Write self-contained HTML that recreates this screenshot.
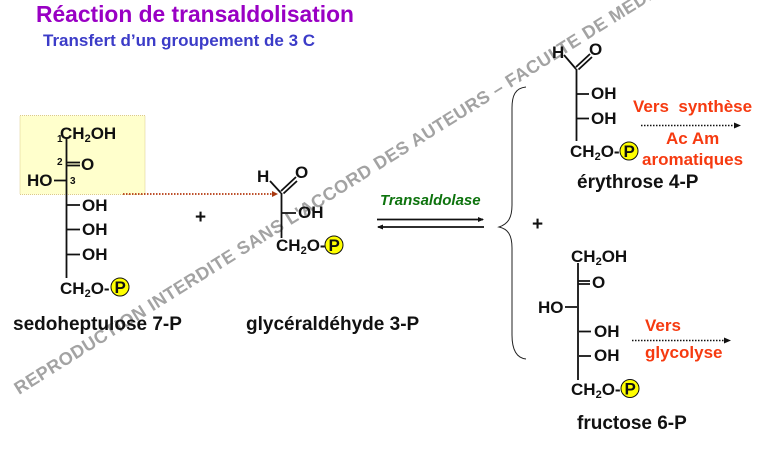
<!DOCTYPE html>
<html><head><meta charset="utf-8"><style>
html,body{margin:0;padding:0;background:#fff}
svg{display:block}
text{font-family:"Liberation Sans",Arial,sans-serif;font-weight:bold;fill:#111}
.s{font-size:17px}
.n{font-size:19px}
.r{fill:#f63a10;font-size:17px}
.sub{font-size:11px}
.num{font-size:10px}
</style></head><body>
<svg width="764" height="450" viewBox="0 0 764 450" xmlns="http://www.w3.org/2000/svg">
<defs>
<marker id="a" markerWidth="6" markerHeight="6" refX="5" refY="2.5" orient="auto" markerUnits="userSpaceOnUse"><path d="M0 0L6 2.5L0 5z" fill="#111"/></marker>
</defs>
<rect x="20" y="115.500" width="125" height="79" fill="#ffffcc" stroke="#dcc98a" stroke-dasharray="1 1"/>
<text x="19" y="395" transform="rotate(-32 19 395)" style="font-size:18px;fill:#a3a3a3;letter-spacing:.5px">REPRODUCTION INTERDITE SANS L'ACCORD DES AUTEURS – FACULTE DE MEDECINE</text>

<text x="36" y="22" style="font-size:22.800px;fill:#9900c4">Réaction de transaldolisation</text>
<text x="43" y="46" style="font-size:17px;fill:#3c3cc8">Transfert d’un groupement de 3 C</text>

<!-- sedoheptulose -->
<g stroke="#111" stroke-width="1.800" fill="none">
<path d="M66.500 138V278M54 180.500H66M67 205H80M67 229.500H80M67 254.500H80M67 162.500H80M67 165.500H80" />
<path d="M123 194H272" stroke="#b5390f" stroke-dasharray="1.500 1.500"/>
</g>
<path d="M272 191L278 194L272 197z" fill="#a8380f"/>
<text class="s" x="60" y="139">CH<tspan class="sub" dy="3">2</tspan><tspan dy="-3">OH</tspan></text>
<text class="num" x="57" y="142">1</text>
<text class="num" x="57" y="165">2</text>
<text class="num" x="70" y="184">3</text>
<text class="s" x="81" y="170">O</text>
<text class="s" x="27" y="186">HO</text>
<text class="s" x="82" y="211">OH</text>
<text class="s" x="82" y="235">OH</text>
<text class="s" x="82" y="260">OH</text>
<text class="s" x="60" y="294">CH<tspan class="sub" dy="3">2</tspan><tspan dy="-3">O-</tspan></text>
<circle cx="120" cy="287" r="9" fill="#ffff00" stroke="#111"/>
<text class="s" x="114.500" y="293">P</text>
<text class="n" x="13" y="330">sedoheptulose 7-P</text>

<text x="195" y="223" style="font-size:19px">+</text>

<!-- glyceraldehyde -->
<g stroke="#111" stroke-width="1.800" fill="none">
<path d="M281.500 193V238M282 213H296M270 181L281 193M281 191L296 177M283.500 193.500L297 181"/>
</g>
<text class="s" x="257" y="182">H</text>
<text class="s" x="295" y="178">O</text>
<text class="s" x="298" y="218">OH</text>
<text class="s" x="276" y="251">CH<tspan class="sub" dy="3">2</tspan><tspan dy="-3">O-</tspan></text>
<circle cx="334" cy="245" r="9" fill="#ffff00" stroke="#111"/>
<text class="s" x="328.500" y="251">P</text>
<text class="n" x="246" y="330">glycéraldéhyde 3-P</text>

<!-- reaction arrows -->
<text x="380" y="205" style="font-size:15px;font-style:italic;fill:#0d730d">Transaldolase</text>
<g stroke="#111" stroke-width="1.800" fill="none">
<path d="M377 219.500H483" marker-end="url(#a)"/>
<path d="M484 227H378" marker-end="url(#a)"/>
</g>

<!-- brace -->
<path d="M526 87C515 88 512 96 512 108V205C512 218 508 224 499 227C508 229 512 235 512 248V335C512 350 517 358 526 359" fill="none" stroke="#222" stroke-width="1"/>
<text x="532" y="230" style="font-size:19px">+</text>

<!-- erythrose -->
<g stroke="#111" stroke-width="1.800" fill="none">
<path d="M576.500 69V141M577 94H589M577 118.500H589M564 55L576 69M576 67L590 54M578.500 69.500L592 57"/>
</g>
<text class="s" x="552" y="58">H</text>
<text class="s" x="589" y="55">O</text>
<text class="s" x="591" y="99">OH</text>
<text class="s" x="591" y="124">OH</text>
<text class="s" x="570" y="157">CH<tspan class="sub" dy="3">2</tspan><tspan dy="-3">O-</tspan></text>
<circle cx="629" cy="151" r="9" fill="#ffff00" stroke="#111"/>
<text class="s" x="623.500" y="157">P</text>
<text class="n" x="577" y="188">érythrose 4-P</text>
<text class="r" x="633" y="112" xml:space="preserve">Vers  synthèse</text>
<text class="r" x="666" y="144">Ac Am</text>
<text class="r" x="642" y="165">aromatiques</text>
<path d="M641 125.500H735" stroke="#111" stroke-width="1.500" stroke-dasharray="1.500 1.500" fill="none"/>
<path d="M734 122.500L741 125.500L734 128.500z" fill="#111"/>

<!-- fructose -->
<g stroke="#111" stroke-width="1.800" fill="none">
<path d="M578 263V380M578 281H590M578 284H590M565 307H577M579 331.500H591M579 356H591"/>
</g>
<text class="s" x="571" y="262">CH<tspan class="sub" dy="3">2</tspan><tspan dy="-3">OH</tspan></text>
<text class="s" x="592" y="288">O</text>
<text class="s" x="538" y="313">HO</text>
<text class="s" x="594" y="337">OH</text>
<text class="s" x="594" y="361">OH</text>
<text class="s" x="571" y="395">CH<tspan class="sub" dy="3">2</tspan><tspan dy="-3">O-</tspan></text>
<circle cx="630" cy="388.500" r="9" fill="#ffff00" stroke="#111"/>
<text class="s" x="624.500" y="394.500">P</text>
<text class="n" x="577" y="429">fructose 6-P</text>
<text class="r" x="645" y="331">Vers</text>
<text class="r" x="645" y="358">glycolyse</text>
<path d="M632 340.500H725" stroke="#111" stroke-width="1.500" stroke-dasharray="1.500 1.500" fill="none"/>
<path d="M724 337.500L731 340.500L724 343.500z" fill="#111"/>
</svg>
</body></html>
